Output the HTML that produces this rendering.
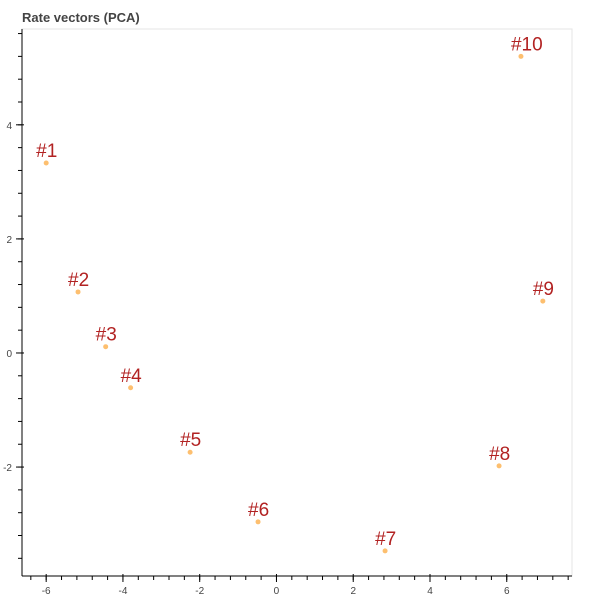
<!DOCTYPE html>
<html><head><meta charset="utf-8"><style>
body{margin:0;background:#fff;}
svg{display:block;font-family:"Liberation Sans",Arial,sans-serif;}
</style></head><body>
<svg id="chart" width="600" height="600">
<text x="22" y="22" font-size="13" font-weight="bold" fill="#444">Rate vectors (PCA)</text>
<rect x="22" y="29" width="550" height="547" fill="none" stroke="#e5e5e5"/>
<g id="axes"></g>
<g id="points"></g>
</svg>
<script>
const labels=["#1","#2","#3","#4","#5","#6","#7","#8","#9","#10"];
const xs=[-6.0,-5.17,-4.45,-3.8,-2.25,-0.48,2.83,5.8,6.94,6.37];
const ys=[3.33,1.07,0.11,-0.61,-1.74,-2.96,-3.47,-1.98,0.91,5.2];
const xTicks=[-6,-4,-2,0,2,4,6];
const yTicks=[-2,0,2,4];
const L=22,R=572,T=29,B=576;
const x0=-6.63,x1=7.7,y0=-3.91,y1=5.68;
const sx=v=>L+(v-x0)/(x1-x0)*(R-L);
const sy=v=>B-(v-y0)/(y1-y0)*(B-T);
const NS="http://www.w3.org/2000/svg";
const ax=document.getElementById('axes');
const pts=document.getElementById('points');
function mk(tag,attrs,parent){const e=document.createElementNS(NS,tag);for(const k in attrs)e.setAttribute(k,attrs[k]);parent.appendChild(e);return e;}
let e=mk('line',{x1:L,y1:B,x2:R,y2:B,stroke:'#000','stroke-width':1},ax);


e=mk('line',{x1:L,y1:T,x2:L,y2:B,stroke:'#000','stroke-width':1},ax);


for(let v=Math.ceil(x0/0.4)*0.4;v<=x1;v+=0.4){const p=sx(v);e=mk('line',{x1:p,y1:B,x2:p,y2:B+4,stroke:'#000'},ax);

}
for(let v=Math.ceil(y0/0.4)*0.4;v<=y1;v+=0.4){const p=sy(v);e=mk('line',{x1:L-4,y1:p,x2:L,y2:p,stroke:'#000'},ax);

}
xTicks.forEach(v=>{const p=sx(v);e=mk('line',{x1:p,y1:B-2,x2:p,y2:B+6,stroke:'#000'},ax);


const t=mk('text',{x:p,y:B+18,'font-size':10,fill:'#444','text-anchor':'middle'},ax);t.textContent=v;

});
yTicks.forEach(v=>{const p=sy(v);e=mk('line',{x1:L-6,y1:p,x2:L+2,y2:p,stroke:'#000'},ax);


const t=mk('text',{x:L-10,y:p+4,'font-size':10,fill:'#444','text-anchor':'end'},ax);t.textContent=v;

});
labels.forEach((lab,i)=>{const px=sx(xs[i]),py=sy(ys[i]);
const c=mk('circle',{cx:px,cy:py,r:2.5,fill:'#fdbf6f'},pts);


const t=mk('text',{x:px-10,y:py-6,'font-size':19,fill:'#b22222'},pts);t.textContent=lab;

});
</script>
</body></html>
